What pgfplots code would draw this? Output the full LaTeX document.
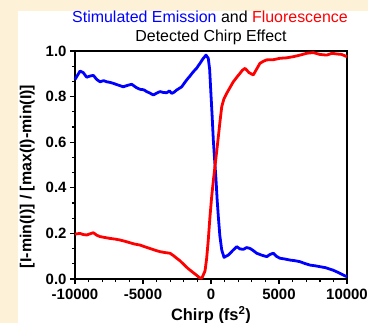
\documentclass[border=0pt]{standalone}
\usepackage{pgfplots}
\pgfplotsset{compat=1.18}
\usepackage{fontspec}
\setmainfont{Liberation Sans}
\definecolor{beige}{RGB}{253,242,216}
\begin{document}
\begin{tikzpicture}[x=1bp,y=1bp]
\useasboundingbox (0,0) rectangle (368,323);
\fill[beige] (0,0) rectangle (368,323);
\fill[white] (18,0) rectangle (368,312);
\node[font=\fontsize{16}{18}\selectfont, inner sep=0pt] at (210,306) {\textcolor{blue}{Stimulated Emission} and \textcolor{red}{Fluorescence}};
\node[font=\fontsize{16}{18}\selectfont, inner sep=0pt] at (211,286) {Detected Chirp Effect};
\begin{axis}[
  at={(75bp,44bp)}, anchor=south west,
  scale only axis, width=272bp, height=228bp,
  xmin=-10000, xmax=10000, ymin=0, ymax=1,
  xtick={-10000,-5000,0,5000,10000},
  ytick={0,0.2,0.4,0.6,0.8,1.0},
  scaled x ticks=false, scaled y ticks=false,
  minor x tick num=4, minor y tick num=2,
  tick align=outside, xtick pos=bottom, ytick pos=left,
  major tick length=5bp, minor tick length=3bp,
  every tick/.style={black, line width=1.4pt},
  axis line style={line width=1.5pt},
  tick label style={font=\fontsize{15}{17}\selectfont\bfseries},
  /pgf/number format/assume math mode=true,
  x tick label style={/pgf/number format/1000 sep={}, yshift=-2bp},
  y tick label style={/pgf/number format/.cd, fixed, fixed zerofill, precision=1},
  xlabel={Chirp (fs\textsuperscript{2})},
  ylabel={[I-min(I)] / [max(I)-min(I)]},
  xlabel style={font=\fontsize{16.5}{18}\selectfont\bfseries, at={(axis description cs:0.5,-0.16)}, anchor=center},
  ylabel style={font=\fontsize{16}{18}\selectfont\bfseries, at={(axis description cs:-0.176,0.45)}, anchor=center},
  clip=false,
]
\addplot[blue, line width=2.8pt, line join=round] coordinates {
(-10000,0.875) (-9800,0.895) (-9630,0.912) (-9390,0.905) (-9140,0.885) (-8900,0.89) (-8650,0.893)
(-8400,0.875) (-8160,0.865) (-7900,0.87) (-7670,0.865) (-7400,0.862) (-7180,0.858) (-6800,0.85)
(-6450,0.843) (-6100,0.85) (-5830,0.854) (-5500,0.84) (-5220,0.832) (-4950,0.83) (-4730,0.822)
(-4480,0.815) (-4240,0.807) (-4000,0.815) (-3750,0.822) (-3500,0.818) (-3260,0.817) (-3050,0.825) (-2890,0.814)
(-2700,0.82) (-2520,0.829) (-2150,0.843) (-1950,0.86) (-1790,0.873) (-1550,0.89) (-1300,0.909)
(-1050,0.925) (-810,0.946) (-600,0.965) (-370,0.982) (-200,0.968) (-100,0.92) (-20,0.829)
(80,0.72) (170,0.61) (270,0.52) (370,0.434) (450,0.35) (540,0.273) (650,0.19) (790,0.127)
(960,0.095) (1270,0.105) (1600,0.125) (1890,0.142) (2130,0.132) (2380,0.130) (2620,0.138) (2870,0.134)
(3100,0.125) (3360,0.113) (3700,0.105) (4100,0.098) (4350,0.108) (4580,0.113) (4800,0.1) (5070,0.091)
(5400,0.088) (5810,0.083) (6200,0.08) (6540,0.076) (6900,0.068) (7280,0.061) (7650,0.058) (8010,0.054)
(8400,0.05) (8750,0.043) (8970,0.039) (9300,0.03) (9700,0.018) (10000,0.01)
};
\addplot[red, line width=2.8pt, line join=round] coordinates {
(-10000,0.197) (-9630,0.2) (-9400,0.195) (-9140,0.193) (-8900,0.198) (-8650,0.203) (-8400,0.192) (-8160,0.186)
(-7800,0.182) (-7430,0.178) (-7050,0.175) (-6690,0.171) (-6300,0.165) (-5960,0.159) (-5600,0.153)
(-5220,0.149) (-4850,0.141) (-4490,0.134) (-4100,0.126) (-3750,0.120) (-3400,0.116) (-3010,0.113)
(-2750,0.102) (-2520,0.091) (-2280,0.08) (-2040,0.066) (-1850,0.055) (-1670,0.045) (-1350,0.03)
(-1050,0.016) (-850,0.006) (-680,0.003) (-440,0.035) (-320,0.09) (-200,0.171) (-80,0.27)
(50,0.361) (170,0.43) (290,0.493) (420,0.56) (540,0.624) (660,0.69) (790,0.756) (950,0.79)
(1150,0.814) (1400,0.84) (1640,0.865) (1900,0.885) (2130,0.902) (2300,0.915) (2500,0.924) (2800,0.905)
(3110,0.895) (3350,0.92) (3600,0.946) (3850,0.955) (4100,0.961) (4600,0.962) (5070,0.968)
(5550,0.97) (6050,0.975) (6550,0.982) (7040,0.99) (7520,0.993) (8000,0.985) (8510,0.982)
(8900,0.99) (9240,0.987) (9600,0.985) (10000,0.975)
};
\end{axis}
\end{tikzpicture}
\end{document}
